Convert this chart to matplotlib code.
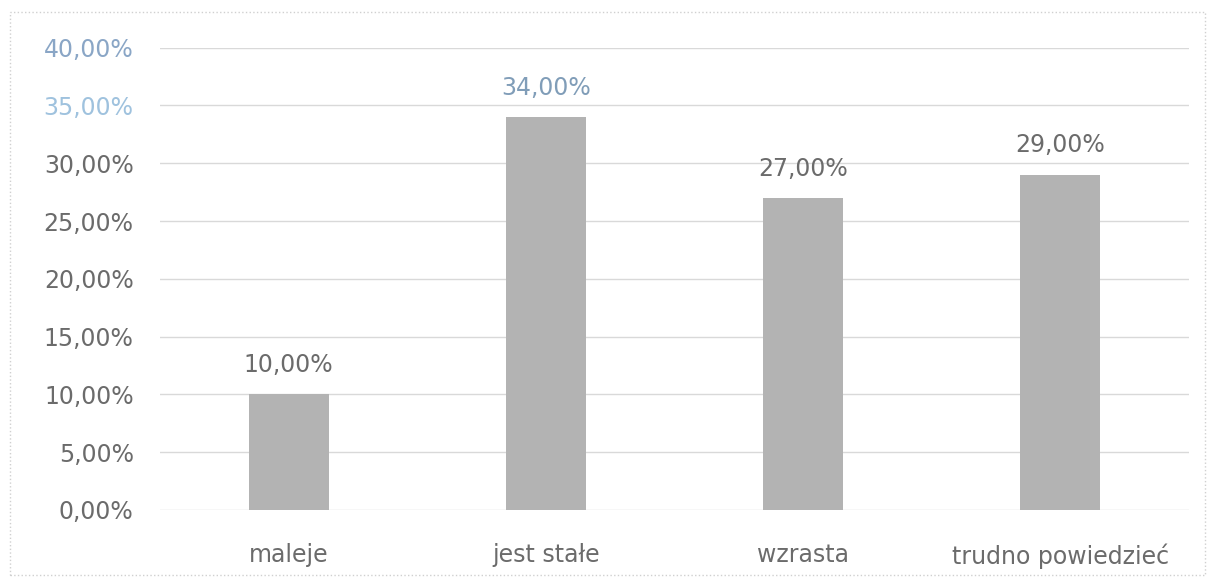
import matplotlib.pyplot as plt
from matplotlib.patches import Rectangle

# donnees
categories = ["maleje", "jest stałe", "wzrasta", "trudno powiedzieć"]
valeurs = [0.10, 0.34, 0.27, 0.29]
etiquettes = ["10,00%", "34,00%", "27,00%", "29,00%"]
graduations = [0.0, 0.05, 0.10, 0.15, 0.20, 0.25, 0.30, 0.35, 0.40]
labels_y = ["0,00%", "5,00%", "10,00%", "15,00%", "20,00%", "25,00%", "30,00%", "35,00%", "40,00%"]

plt.rcParams['font.family'] = ['DejaVu Sans']

fig = plt.figure(figsize=(12.13, 5.82), dpi=100)
ax = fig.add_axes([0.132, 0.124, 0.848, 0.794])

x = range(len(categories))
ax.bar(x, valeurs, width=0.31, color="#b3b3b3", zorder=2)

# etiquettes au dessus des barres
couleurs_val = ["#6b6b6b", "#809db8", "#6b6b6b", "#6b6b6b"]
for i, v in enumerate(valeurs):
    ax.text(i, v + 0.015, etiquettes[i], ha="center", va="bottom",
            fontsize=17, color=couleurs_val[i])

ax.set_xlim(-0.5, len(categories) - 0.5)
ax.set_ylim(0, 0.40)
ax.set_yticks(graduations)
ax.set_yticklabels(labels_y)
ax.set_xticks(list(x))
ax.set_xticklabels(categories)
ax.tick_params(axis="y", length=0, pad=19, labelsize=17, labelcolor="#6b6b6b")
ax.tick_params(axis="x", length=0, pad=24, labelsize=17, labelcolor="#6b6b6b")
# les deux premieres graduations sont bleutees sur l'original
ax.get_yticklabels()[-1].set_color("#8aa6c6")
ax.get_yticklabels()[-2].set_color("#9fc2de")

ax.grid(axis="y", color="#d9d9d9", linewidth=1, zorder=0)
for s in ax.spines.values():
    s.set_visible(False)

# cadre gris autour de tout le graphique
fig.patches.append(Rectangle((0.008, 0.012), 0.985, 0.968, transform=fig.transFigure,
                             fill=False, edgecolor="#d0d0d0", linewidth=1, linestyle=":"))

plt.savefig("out.png", dpi=100)
